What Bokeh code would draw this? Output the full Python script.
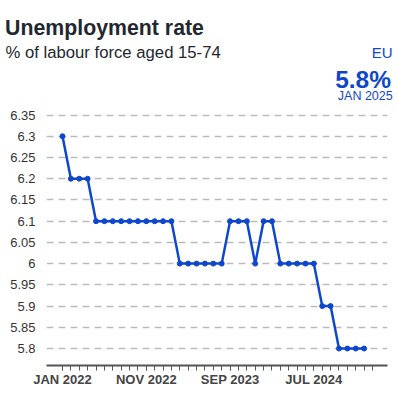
from bokeh.plotting import figure
from bokeh.models import FixedTicker, CustomJSTickFormatter, Range1d
from bokeh.layouts import column
from bokeh.core.properties import value
from bokeh.embed import file_html
from bokeh.resources import INLINE

months = [
    "JAN 2022", "FEB 2022", "MAR 2022", "APR 2022", "MAY 2022", "JUN 2022",
    "JUL 2022", "AUG 2022", "SEP 2022", "OCT 2022", "NOV 2022", "DEC 2022",
    "JAN 2023", "FEB 2023", "MAR 2023", "APR 2023", "MAY 2023", "JUN 2023",
    "JUL 2023", "AUG 2023", "SEP 2023", "OCT 2023", "NOV 2023", "DEC 2023",
    "JAN 2024", "FEB 2024", "MAR 2024", "APR 2024", "MAY 2024", "JUN 2024",
    "JUL 2024", "AUG 2024", "SEP 2024", "OCT 2024", "NOV 2024", "DEC 2024",
    "JAN 2025",
]
rate = [
    6.3, 6.2, 6.2, 6.2, 6.1, 6.1, 6.1, 6.1, 6.1, 6.1, 6.1, 6.1,
    6.1, 6.1, 6.0, 6.0, 6.0, 6.0, 6.0, 6.0, 6.1, 6.1, 6.1, 6.0,
    6.1, 6.1, 6.0, 6.0, 6.0, 6.0, 6.0, 5.9, 5.9, 5.8, 5.8, 5.8,
    5.8,
]
y_ticks = [5.8, 5.85, 5.9, 5.95, 6.0, 6.05, 6.1, 6.15, 6.2, 6.25, 6.3, 6.35]
x_label_every = 10

title = "Unemployment rate"
subtitle = "% of labour force aged 15-74"
region = "EU"
latest_value = "5.8%"
latest_month = "JAN 2025"

BLUE = "#0e47cb"
DARK = "#23272f"
FONT = "Liberation Sans"

# ---------------- header ----------------
HW, HH = 398, 102
header = figure(width=HW, height=HH, output_backend="svg", toolbar_location=None,
                x_range=Range1d(0, HW), y_range=Range1d(HH, 0),
                x_axis_type=None, y_axis_type=None, frame_align=False,
                min_border_left=0, min_border_right=0,
                min_border_top=0, min_border_bottom=0)
header.outline_line_color = None
header.grid.visible = False

def htext(t, xx, yy, size, color, style="normal", align="left"):
    header.text(x=[xx], y=[yy], text=[t], text_font=value(FONT),
                text_font_size=size, text_color=color, text_font_style=style,
                text_align=align, text_baseline="alphabetic")

htext(title, 4.6, 27.5, "21.3px", DARK, "bold")
htext(subtitle, 5.0, 52.0, "16.7px", DARK)
htext(region, 392.2, 51.7, "15px", BLUE, align="right")
htext(latest_value, 390.5, 79.0, "24.5px", BLUE, "bold", align="right")
htext(latest_month, 392.2, 95.0, "12.5px", BLUE, align="right")

# ---------------- chart ----------------
x = list(range(len(rate)))
CW, CH = 398, 292
p = figure(width=CW, height=CH, output_backend="svg", toolbar_location=None,
           x_range=Range1d(-1.91, 38.79), y_range=Range1d(5.76, 6.3725),
           min_border_left=46, min_border_right=11, min_border_top=3,
           min_border_bottom=29, frame_align=False)
p.outline_line_color = None

major = list(range(0, len(rate), x_label_every))
p.xaxis.ticker = FixedTicker(ticks=major, minor_ticks=list(range(len(rate) + 1)))
p.xaxis.major_label_overrides = {i: months[i] for i in major}
p.xaxis.axis_line_color = "#555555"
p.xaxis.axis_line_width = 2
p.xaxis.major_tick_line_color = "#555555"
p.xaxis.minor_tick_line_color = "#555555"
p.xaxis.major_tick_in = 0
p.xaxis.major_tick_out = 5
p.xaxis.minor_tick_in = 0
p.xaxis.minor_tick_out = 5
p.xaxis.major_label_standoff = 1
p.xaxis.major_label_text_font = FONT
p.xaxis.major_label_text_font_size = "13px"
p.xaxis.major_label_text_font_style = "bold"
p.xaxis.major_label_text_color = "#444444"

p.yaxis.ticker = FixedTicker(ticks=y_ticks)
p.yaxis.formatter = CustomJSTickFormatter(code="return String(Math.round(tick*100)/100);")
p.yaxis.axis_line_color = None
p.yaxis.major_tick_line_color = None
p.yaxis.minor_tick_line_color = None
p.yaxis.major_label_standoff = 5
p.yaxis.major_label_text_font = FONT
p.yaxis.major_label_text_font_size = "13px"
p.yaxis.major_label_text_color = "#333333"

p.xgrid.grid_line_color = None
p.ygrid.grid_line_color = "#bbbbbb"
p.ygrid.grid_line_dash = "7 5"
p.ygrid.grid_line_width = 1.5

p.line(x, rate, line_color=BLUE, line_width=2.5)
p.scatter(x, rate, size=5, fill_color=BLUE, line_color=BLUE)

layout = column(header, p, spacing=0)
open("out.html", "w").write(file_html(layout, INLINE))
